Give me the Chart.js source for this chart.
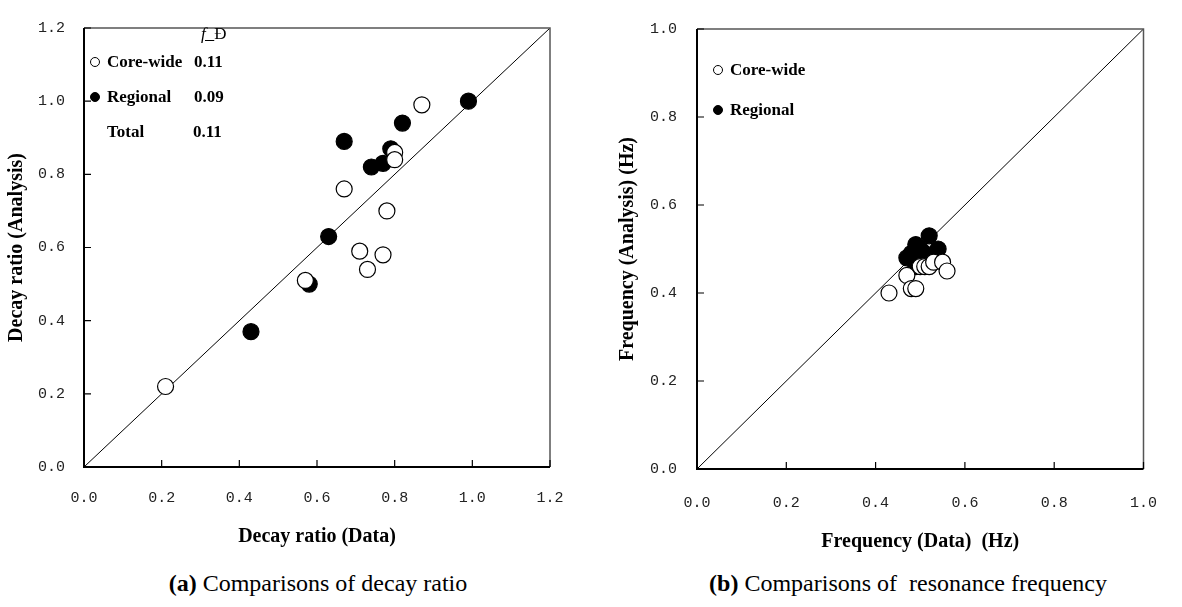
<!DOCTYPE html>
<html lang="en">
<head>
    <meta charset="UTF-8">
    <title>Decay ratio and resonance frequency comparisons</title>
    <script src="https://cdn.jsdelivr.net/npm/chart.js"></script>
    <style>
        body { margin: 0; background: #fff; }
        #page { position: relative; width: 1182px; height: 607px; overflow: hidden; }
        canvas { position: absolute; top: 0; }
        .lg { position: absolute; font: bold 17px "Liberation Serif", serif; color: #000; white-space: nowrap; line-height: 20px; }
        .dot { position: absolute; width: 10px; height: 10px; border: 1px solid #000; border-radius: 50%; box-sizing: border-box; }
        .dot.fill { background: #000; }
        .cap { position: absolute; font: 24px "Liberation Serif", serif; white-space: nowrap; transform: translateX(-50%); }
    </style>
</head>
<body>
<div id="page">
    <canvas id="decayChart" style="left:0px" width="590" height="560"></canvas>
    <canvas id="freqChart" style="left:600px" width="582" height="560"></canvas>

    <!-- legend (a) -->
    <div class="lg" style="left:201px; top:24px; font-weight:normal; font-size:17px;"><i style="text-decoration:underline;">f&nbsp;&nbsp;</i>Ð</div>
    <div class="dot" style="left:90px; top:57px;"></div>
    <div class="lg" style="left:107px; top:52px;">Core-wide</div>
    <div class="lg" style="left:194px; top:52px;">0.11</div>
    <div class="dot fill" style="left:90px; top:92px;"></div>
    <div class="lg" style="left:107px; top:87px;">Regional</div>
    <div class="lg" style="left:194px; top:87px;">0.09</div>
    <div class="lg" style="left:107px; top:122px;">Total</div>
    <div class="lg" style="left:193px; top:122px;">0.11</div>

    <!-- legend (b) -->
    <div class="dot" style="left:713px; top:65px;"></div>
    <div class="lg" style="left:730px; top:60px;">Core-wide</div>
    <div class="dot fill" style="left:713px; top:105px;"></div>
    <div class="lg" style="left:730px; top:100px;">Regional</div>

    <div class="cap" style="left:318px; top:570px;"><b>(a)</b> Comparisons of decay ratio</div>
    <div class="cap" style="left:908px; top:570px;"><b>(b)</b> Comparisons of&nbsp; resonance frequency</div>
</div>

<script>
    // (a) decay ratio: [data, analysis]
    var decayCoreWide = [[0.21, 0.22], [0.57, 0.51], [0.67, 0.76], [0.71, 0.59], [0.73, 0.54],
                         [0.77, 0.58], [0.78, 0.70], [0.80, 0.86], [0.80, 0.84], [0.87, 0.99]];
    var decayRegional = [[0.43, 0.37], [0.58, 0.50], [0.63, 0.63], [0.67, 0.89], [0.74, 0.82],
                         [0.77, 0.83], [0.79, 0.87], [0.82, 0.94], [0.99, 1.00]];
    var decayTicks = [0, 0.2, 0.4, 0.6, 0.8, 1.0, 1.2];

    // (b) resonance frequency (Hz): [data, analysis]
    var freqCoreWide = [[0.43, 0.40], [0.47, 0.44], [0.48, 0.41], [0.49, 0.41], [0.50, 0.46],
                        [0.51, 0.46], [0.52, 0.46], [0.53, 0.47], [0.55, 0.47], [0.56, 0.45]];
    var freqRegional = [[0.47, 0.48], [0.48, 0.49], [0.49, 0.51], [0.50, 0.50], [0.51, 0.49],
                        [0.52, 0.53], [0.54, 0.50], [0.49, 0.46]];
    var freqTicks = [0, 0.2, 0.4, 0.6, 0.8, 1.0];

    function toXY(arr) {
        return arr.map(function (p) { return { x: p[0], y: p[1] }; });
    }

    // frame + inward tick marks
    var framePlugin = {
        id: 'frame',
        afterDatasetsDraw: function (chart) {
            var ctx = chart.ctx, a = chart.chartArea;
            var xs = chart.scales.x, ys = chart.scales.y;
            ctx.save();
            ctx.strokeStyle = '#555';
            ctx.lineWidth = 1.5;
            ctx.beginPath();
            ctx.moveTo(a.left, a.top); ctx.lineTo(a.right, a.top); ctx.lineTo(a.right, a.bottom);
            ctx.stroke();
            ctx.strokeStyle = '#000';
            ctx.lineWidth = 2;
            ctx.beginPath();
            ctx.moveTo(a.left, a.top); ctx.lineTo(a.left, a.bottom); ctx.lineTo(a.right, a.bottom);
            ctx.stroke();
            ctx.lineWidth = 1.2;
            ctx.beginPath();
            xs.ticks.forEach(function (t) {
                var px = xs.getPixelForValue(t.value);
                ctx.moveTo(px, a.bottom); ctx.lineTo(px, a.bottom - 7);
            });
            ys.ticks.forEach(function (t) {
                var py = ys.getPixelForValue(t.value);
                ctx.moveTo(a.left, py); ctx.lineTo(a.left + 7, py);
            });
            ctx.stroke();
            ctx.restore();
        }
    };

    function makeChart(id, core, regional, ticks, cfg) {
        var max = ticks[ticks.length - 1];
        return new Chart(document.getElementById(id), {
            type: 'scatter',
            data: {
                datasets: [
                    { data: toXY(core), order: 1, pointRadius: 8, pointHoverRadius: 8,
                      backgroundColor: '#fff', borderColor: '#000', borderWidth: 1.2 },
                    { data: toXY(regional), order: 2, pointRadius: 8, pointHoverRadius: 8,
                      backgroundColor: '#000', borderColor: '#000', borderWidth: 1.2 },
                    { data: [{ x: 0, y: 0 }, { x: max, y: max }], order: 3, showLine: true,
                      pointRadius: 0, borderColor: '#000', borderWidth: 1 }
                ]
            },
            options: {
                responsive: false,
                animation: false,
                events: [],
                layout: { padding: { top: cfg.top, right: cfg.right, left: 0, bottom: 0 } },
                plugins: { legend: { display: false }, tooltip: { enabled: false } },
                scales: {
                    x: {
                        type: 'linear', min: 0, max: max,
                        afterBuildTicks: function (s) { s.ticks = ticks.map(function (v) { return { value: v }; }); },
                        afterFit: function (s) { s.height = cfg.xh; },
                        grid: { display: false, drawTicks: false },
                        border: { display: false },
                        ticks: { padding: cfg.xpad, color: '#222', maxRotation: 0,
                                 font: { family: 'Liberation Mono', size: 15 },
                                 callback: function (v) { return v.toFixed(1); } },
                        title: { display: true, text: cfg.xTitle, color: '#000',
                                 padding: { top: 0, bottom: cfg.xtpad },
                                 font: { family: 'Liberation Serif', size: 20, weight: 'bold' } }
                    },
                    y: {
                        type: 'linear', min: 0, max: max,
                        afterBuildTicks: function (s) { s.ticks = ticks.map(function (v) { return { value: v }; }); },
                        afterFit: function (s) { s.width = cfg.yw; },
                        grid: { display: false, drawTicks: false },
                        border: { display: false },
                        ticks: { padding: cfg.ypad, color: '#222',
                                 font: { family: 'Liberation Mono', size: 15 },
                                 callback: function (v) { return v.toFixed(1); } },
                        title: { display: true, text: cfg.yTitle, color: '#000',
                                 padding: { top: cfg.ytpad, bottom: 0 },
                                 font: { family: 'Liberation Serif', size: 20, weight: 'bold' } }
                    }
                }
            },
            plugins: [framePlugin]
        });
    }

    makeChart('decayChart', decayCoreWide, decayRegional, decayTicks, {
        top: 13, right: 40, xh: 93, yw: 84, xpad: 22, ypad: 19, ytpad: 5, xtpad: 11,
        xTitle: 'Decay ratio (Data)', yTitle: 'Decay ratio (Analysis)'
    });
    makeChart('freqChart', freqCoreWide, freqRegional, freqTicks, {
        top: 12, right: 21, xh: 91, yw: 97, xpad: 25, ypad: 20, ytpad: 16, xtpad: 6,
        xTitle: 'Frequency (Data)  (Hz)', yTitle: 'Frequency (Analysis) (Hz)'
    });
</script>
</body>
</html>
